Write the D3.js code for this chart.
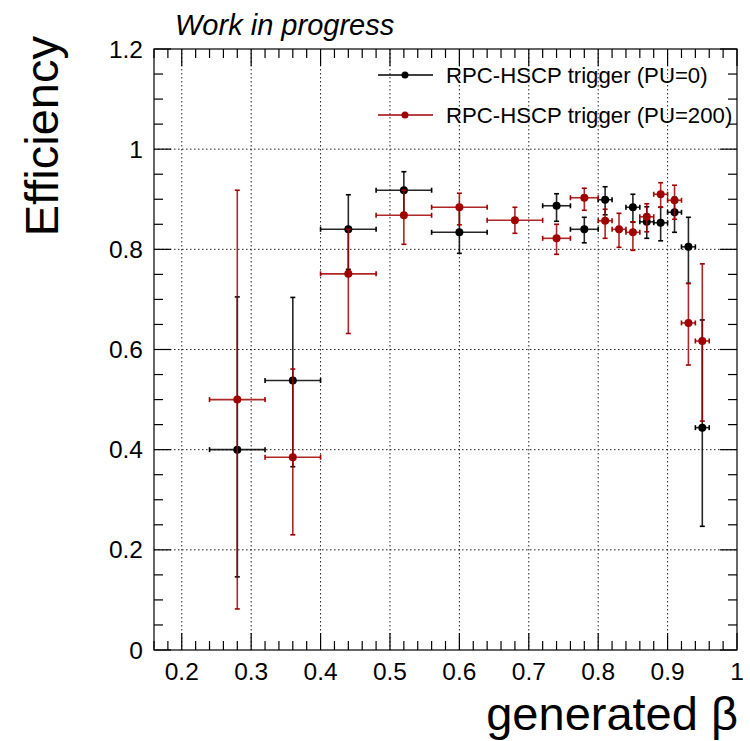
<!DOCTYPE html>
<html>
<head>
<meta charset="utf-8">
<script src="https://cdn.jsdelivr.net/npm/d3@7"></script>
<style>
  html, body { margin: 0; padding: 0; background: #fff; }
  svg text { font-family: "Liberation Sans", Arial, Helvetica, sans-serif; }
</style>
</head>
<body>
<svg id="chart" width="750" height="741"></svg>
<script>
// Trigger efficiency vs generated beta, two pile-up scenarios (asymmetric errors)
const betaPU0   = [0.28, 0.36, 0.44, 0.52, 0.60, 0.74, 0.78, 0.81, 0.85, 0.87, 0.89, 0.91, 0.93, 0.95];
const effPU0    = [0.400, 0.538, 0.840, 0.918, 0.834, 0.887, 0.840, 0.899, 0.884, 0.855, 0.853, 0.874, 0.805, 0.444];
const binHalfPU0 = [0.04, 0.04, 0.04, 0.04, 0.04, 0.02, 0.02, 0.01, 0.01, 0.01, 0.01, 0.01, 0.01, 0.01];
const errHiPU0  = [0.305, 0.166, 0.069, 0.037, 0.046, 0.024, 0.024, 0.026, 0.026, 0.030, 0.031, 0.030, 0.059, 0.215];
const errLoPU0  = [0.254, 0.172, 0.080, 0.050, 0.042, 0.031, 0.027, 0.030, 0.030, 0.033, 0.036, 0.040, 0.073, 0.197];

const betaPU200   = [0.28, 0.36, 0.44, 0.52, 0.60, 0.68, 0.74, 0.78, 0.81, 0.83, 0.85, 0.87, 0.89, 0.91, 0.93, 0.95];
const effPU200    = [0.500, 0.385, 0.751, 0.868, 0.884, 0.858, 0.822, 0.903, 0.857, 0.840, 0.834, 0.865, 0.910, 0.898, 0.653, 0.617];
const binHalfPU200 = [0.04, 0.04, 0.04, 0.04, 0.04, 0.04, 0.02, 0.02, 0.01, 0.01, 0.01, 0.01, 0.01, 0.01, 0.01, 0.01];
const errHiPU200  = [0.418, 0.176, 0.089, 0.050, 0.028, 0.026, 0.028, 0.019, 0.023, 0.032, 0.021, 0.026, 0.023, 0.030, 0.079, 0.154];
const errLoPU200  = [0.418, 0.155, 0.119, 0.058, 0.035, 0.026, 0.032, 0.025, 0.035, 0.036, 0.036, 0.030, 0.026, 0.038, 0.084, 0.160];

const seriesNames = ["RPC-HSCP trigger (PU=0)", "RPC-HSCP trigger (PU=200)"];
const seriesColors = ["#000000", "#a00000"];

const xDomain = [0.16, 1.0];
const yDomain = [0, 1.2];
const xMajor = [0.2, 0.3, 0.4, 0.5, 0.6, 0.7, 0.8, 0.9, 1.0];
const yMajor = [0, 0.2, 0.4, 0.6, 0.8, 1.0, 1.2];

const svg = d3.select("#chart");
const frame = { left: 154, right: 737, top: 49, bottom: 650 };

const x = d3.scaleLinear().domain(xDomain).range([frame.left, frame.right]);
const y = d3.scaleLinear().domain(yDomain).range([frame.bottom, frame.top]);

const fmt = d => String(+d.toFixed(1));
const majorLen = 17, minorLen = 9;

// grid
const grid = svg.append("g").attr("stroke", "#222").attr("stroke-width", 1)
  .attr("stroke-dasharray", "1.5,2.5");
xMajor.filter(v => v > xDomain[0] && v < xDomain[1]).forEach(v => {
  grid.append("line").attr("x1", x(v)).attr("x2", x(v)).attr("y1", frame.top).attr("y2", frame.bottom);
});
yMajor.filter(v => v > yDomain[0] && v < yDomain[1]).forEach(v => {
  grid.append("line").attr("x1", frame.left).attr("x2", frame.right).attr("y1", y(v)).attr("y2", y(v));
});

// ticks on all four sides
const xMinor = d3.range(0, 51).map(i => +(0.16 + i * 0.02).toFixed(2)).filter(v => v <= 1.0 && !xMajor.some(m => Math.abs(m - v) < 1e-6));
const yMinor = d3.range(0, 25).map(i => +(i * 0.05).toFixed(2)).filter(v => v <= 1.2 && !yMajor.some(m => Math.abs(m - v) < 1e-6));

const axisG = svg.append("g").attr("stroke", "#000").attr("stroke-width", 1.2);
function xTick(v, len) {
  axisG.append("line").attr("x1", x(v)).attr("x2", x(v)).attr("y1", frame.bottom).attr("y2", frame.bottom - len);
  axisG.append("line").attr("x1", x(v)).attr("x2", x(v)).attr("y1", frame.top).attr("y2", frame.top + len);
}
function yTick(v, len) {
  axisG.append("line").attr("y1", y(v)).attr("y2", y(v)).attr("x1", frame.left).attr("x2", frame.left + len);
  axisG.append("line").attr("y1", y(v)).attr("y2", y(v)).attr("x1", frame.right).attr("x2", frame.right - len);
}
xMajor.forEach(v => xTick(v, majorLen));
xMinor.forEach(v => xTick(v, minorLen));
yMajor.forEach(v => yTick(v, majorLen));
yMinor.forEach(v => yTick(v, minorLen));

axisG.append("rect").attr("x", frame.left).attr("y", frame.top)
  .attr("width", frame.right - frame.left).attr("height", frame.bottom - frame.top)
  .attr("fill", "none");

// tick labels
svg.append("g").selectAll("text").data(xMajor).join("text")
  .attr("x", d => x(d)).attr("y", 680).attr("text-anchor", "middle")
  .attr("font-size", 24.5).attr("fill", "#000").text(fmt);
svg.append("g").selectAll("text").data(yMajor).join("text")
  .attr("x", 143).attr("y", d => y(d) + 8.5).attr("text-anchor", "end")
  .attr("font-size", 24.5).attr("fill", "#000").text(fmt);

// axis titles
svg.append("text").attr("x", 738).attr("y", 730).attr("text-anchor", "end")
  .attr("font-size", 47).attr("fill", "#000").text("generated β");
svg.append("text").attr("transform", "translate(58,36) rotate(-90)")
  .attr("text-anchor", "end").attr("font-size", 47).attr("fill", "#000").text("Efficiency");
svg.append("text").attr("x", 175).attr("y", 35).attr("font-size", 29)
  .attr("font-style", "italic").attr("fill", "#000").text("Work in progress");

// error bars with end caps, then markers
function drawSeries(bx, ey, hx, hi, lo, color) {
  const g = svg.append("g").attr("stroke", color).attr("stroke-width", 1.6).attr("fill", color);
  const cap = 2.5;
  bx.forEach((b, i) => {
    const cx = x(b), cy = y(ey[i]);
    const xl = x(b - hx[i]), xr = x(b + hx[i]);
    const yt = y(ey[i] + hi[i]), yb = y(ey[i] - lo[i]);
    g.append("line").attr("x1", xl).attr("x2", xr).attr("y1", cy).attr("y2", cy).attr("stroke-opacity", 0.85);
    g.append("line").attr("x1", cx).attr("x2", cx).attr("y1", yt).attr("y2", yb).attr("stroke-opacity", 0.85);
    g.append("line").attr("x1", xl).attr("x2", xl).attr("y1", cy - cap).attr("y2", cy + cap);
    g.append("line").attr("x1", xr).attr("x2", xr).attr("y1", cy - cap).attr("y2", cy + cap);
    g.append("line").attr("x1", cx - cap).attr("x2", cx + cap).attr("y1", yt).attr("y2", yt);
    g.append("line").attr("x1", cx - cap).attr("x2", cx + cap).attr("y1", yb).attr("y2", yb);
  });
  g.selectAll("circle").data(bx).join("circle")
    .attr("cx", d => x(d)).attr("cy", (d, i) => y(ey[i])).attr("r", 4).attr("stroke", "none");
}
drawSeries(betaPU0, effPU0, binHalfPU0, errHiPU0, errLoPU0, seriesColors[0]);
drawSeries(betaPU200, effPU200, binHalfPU200, errHiPU200, errLoPU200, seriesColors[1]);

// legend
const legend = svg.append("g");
seriesNames.forEach((name, i) => {
  const ly = 75 + i * 40;
  legend.append("line").attr("x1", 378).attr("x2", 433).attr("y1", ly).attr("y2", ly)
    .attr("stroke", seriesColors[i]).attr("stroke-width", 1.5);
  legend.append("circle").attr("cx", 405).attr("cy", ly).attr("r", 3.5).attr("fill", seriesColors[i]);
  legend.append("text").attr("x", 446).attr("y", ly + 8).attr("font-size", 22.2)
    .attr("fill", "#000").text(name);
});
</script>
</body>
</html>
